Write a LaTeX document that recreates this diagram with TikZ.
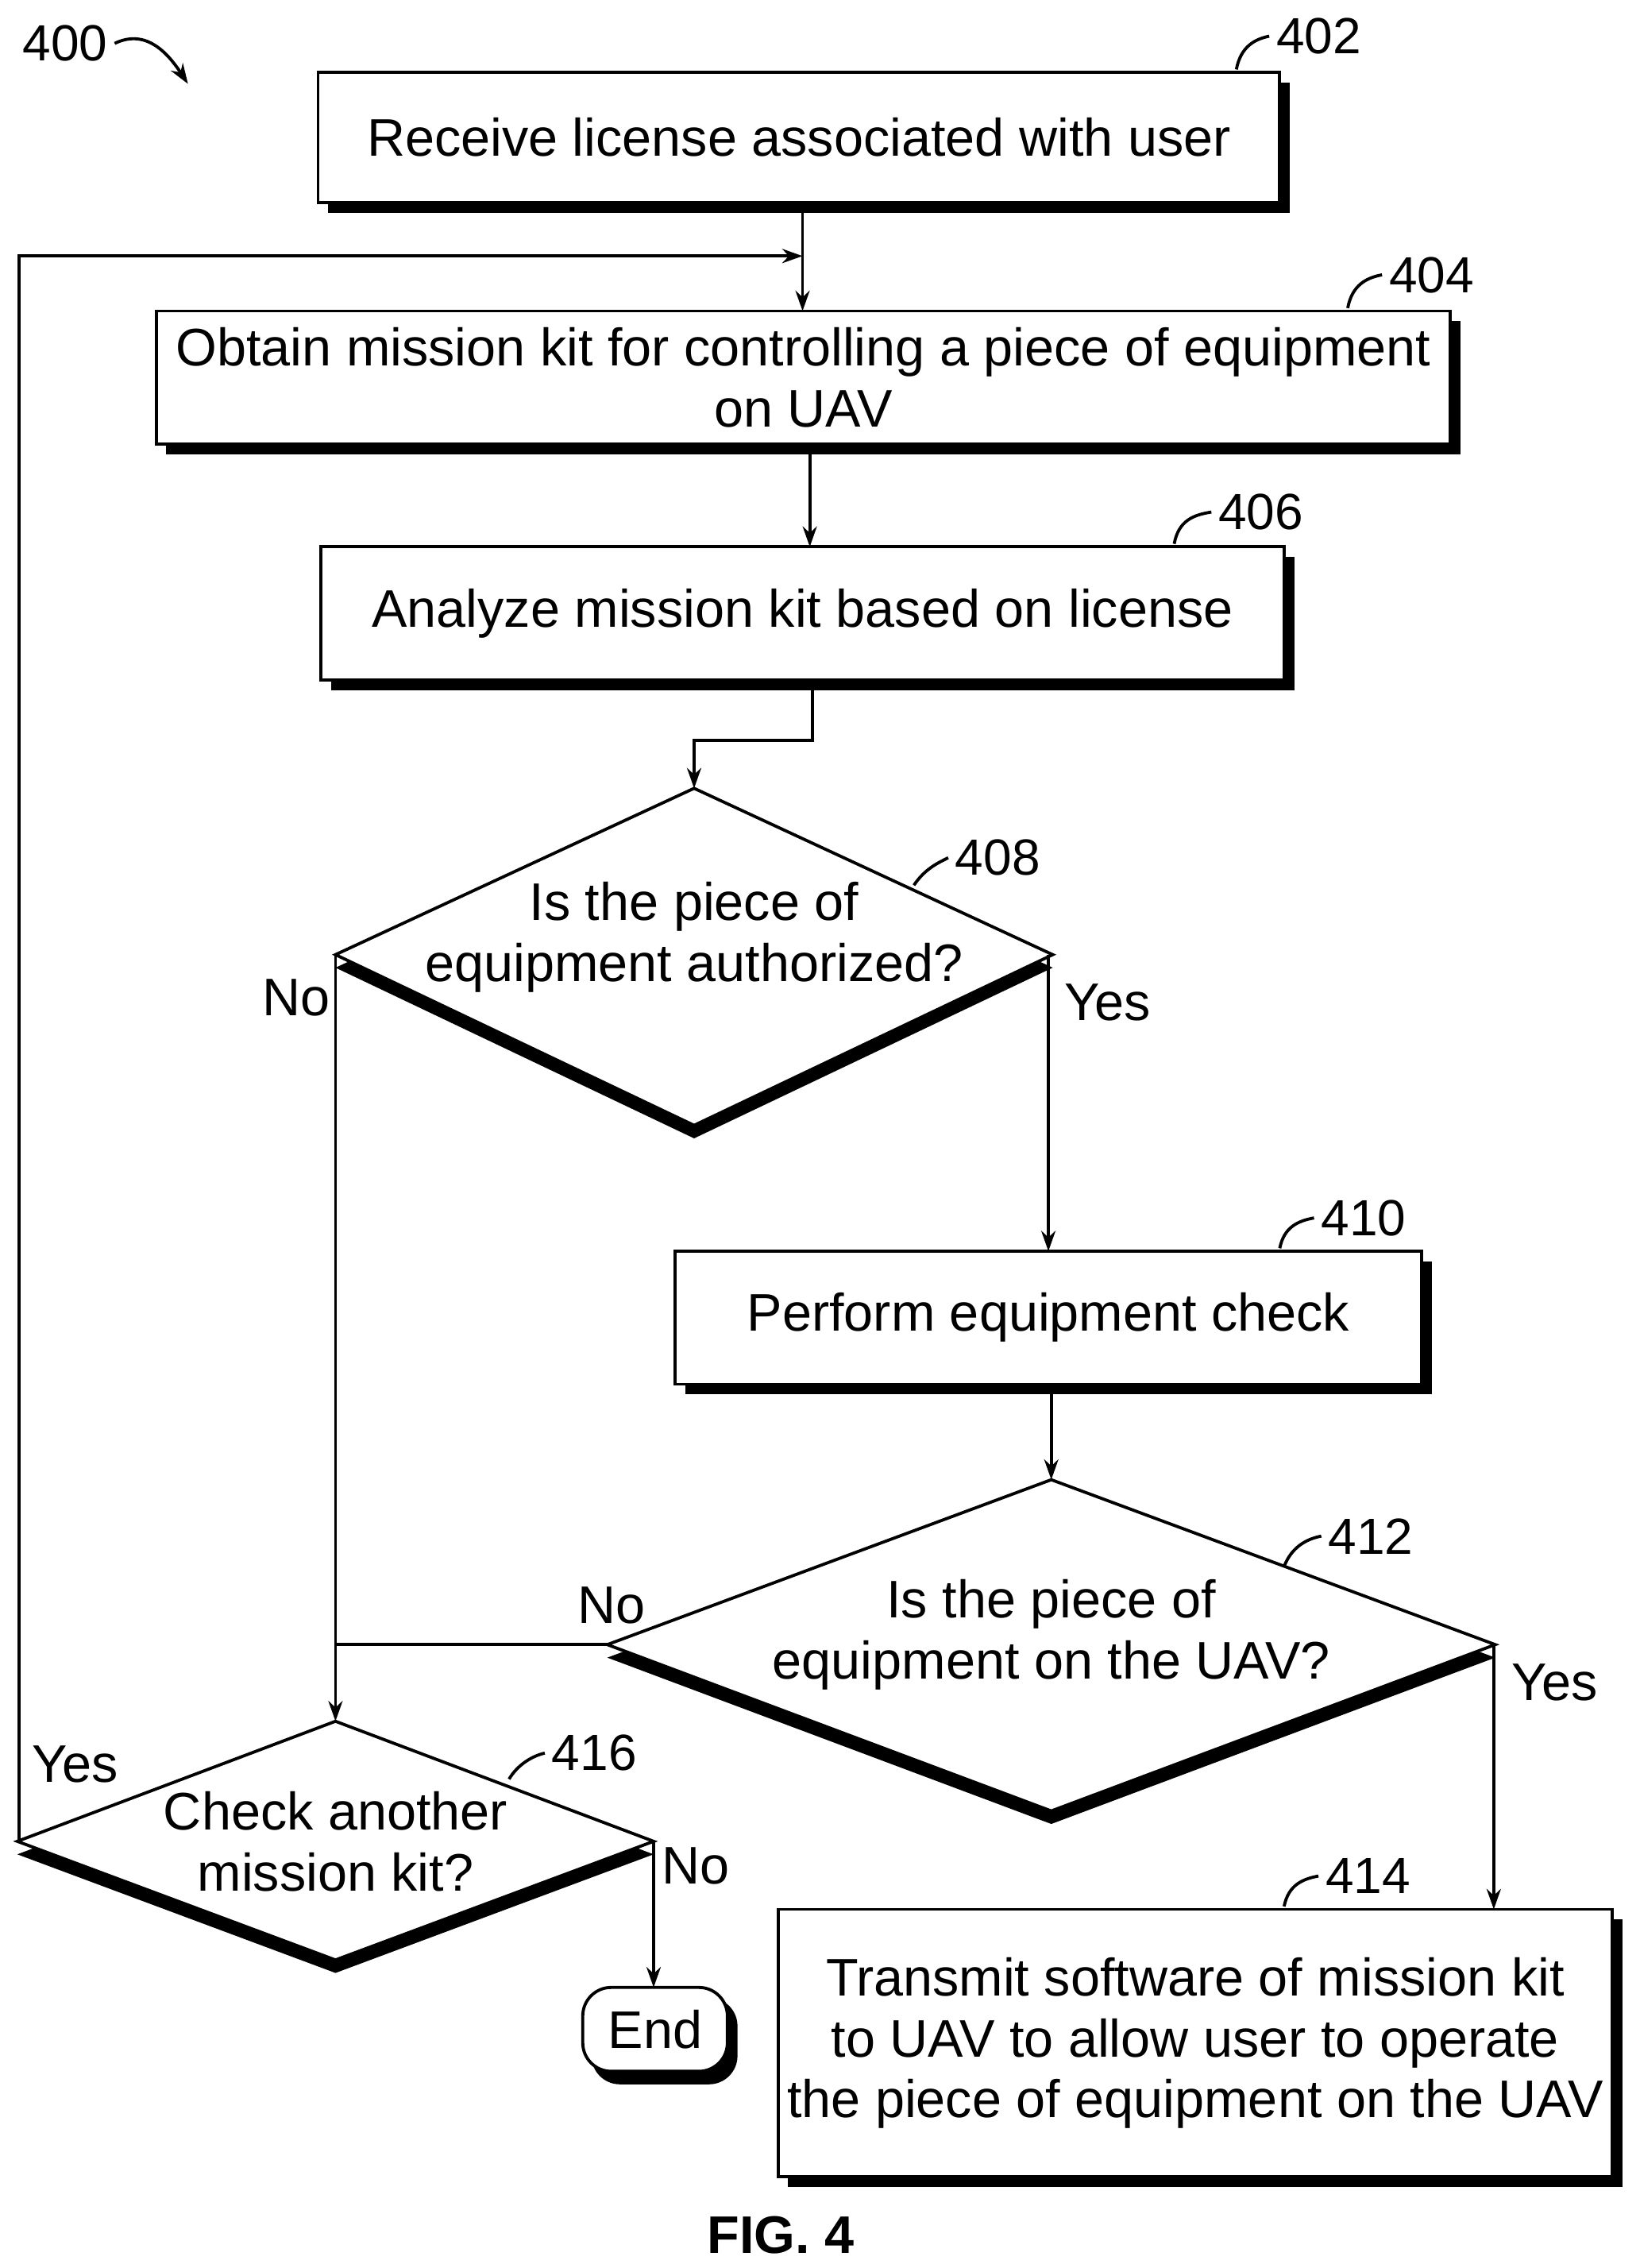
\documentclass[tikz,border=0pt]{standalone}
\usepackage{fontspec}
\setmainfont{Liberation Sans}
\usetikzlibrary{arrows.meta}
\begin{document}
\begin{tikzpicture}[x=0.025cm,y=-0.025cm,
  every node/.style={font=\fontsize{26}{30}\selectfont},
  ln/.style={line width=1.5pt},
  ar/.style={ln,-{Stealth[length=10pt,width=7pt]}},
  box/.style={draw,line width=1.5pt,fill=white},
  lbl/.style={font=\fontsize{25}{29}\selectfont}]
\useasboundingbox (0,0) rectangle (1134,1568);
\newcommand{\mybox}[5]{% name, x1,y1,x2,y2
  \fill[black] (#2+7,#3+7) rectangle (#4+7,#5+7);
  \draw[box] (#2,#3) rectangle (#4,#5);
  \coordinate (#1) at ({(#2+#4)/2},{(#3+#5)/2});}
\newcommand{\mydia}[6]{% name, top x,y, half width, upper height, lower height
  \fill[black] (#2,#3+9) -- (#2+#4,#3+#5+9) -- (#2,#3+#5+#6+9) -- (#2-#4,#3+#5+9) -- cycle;
  \draw[box] (#2,#3) -- (#2+#4,#3+#5) -- (#2,#3+#5+#6) -- (#2-#4,#3+#5) -- cycle;}
\mybox{b402}{220}{50}{885}{140}
\node (t402) at (b402) {Receive license associated with user};
\mybox{b404}{108}{215}{1003}{307}
\node[align=center] (t404) at (b404) {Obtain mission kit for controlling a piece of equipment\\on UAV};
\mybox{b406}{222}{378}{888}{470}
\node (t406) at (b406) {Analyze mission kit based on license};
\mydia{d408}{480}{545}{248}{115}{118}
\node[align=center] (t408) at (480,648) {Is the piece of\\equipment authorized?};
\mybox{b410}{467}{865}{983}{957}
\node (t410) at (b410) {Perform equipment check};
\mydia{d412}{727}{1023}{307}{114}{115}
\node[align=center] (t412) at (727,1130) {Is the piece of\\equipment on the UAV?};
\mydia{d416}{232}{1190}{220}{83}{82}
\node[align=center] (t416) at (232,1273) {Check another\\mission kit?};
\mybox{b414}{538}{1320}{1115}{1505}
\node[align=center] (t414) at (b414) {Transmit software of mission kit\\to UAV to allow user to operate\\the piece of equipment on the UAV};
\fill[black,rounded corners=14pt] (409,1381) rectangle (510,1441);
\draw[box,rounded corners=14pt] (403,1374) rectangle (503,1432);
\node (end) at (453,1403) {End};
\coordinate (p1) at (555,140); \coordinate (p2) at (555,215);
\coordinate (l1) at (13,1273); \coordinate (l2) at (13,177); \coordinate (l3) at (555,177);
\coordinate (q1) at (560,307); \coordinate (q2) at (560,378);
\coordinate (r1) at (562,470); \coordinate (r2) at (562,512); \coordinate (r3) at (480,512); \coordinate (r4) at (480,545);
\coordinate (s1) at (232,660); \coordinate (s2) at (232,1190);
\coordinate (u1) at (420,1137); \coordinate (u2) at (232,1137);
\coordinate (v1) at (725,660); \coordinate (v2) at (725,865);
\coordinate (w1) at (727,957); \coordinate (w2) at (727,1023);
\coordinate (x1) at (1033,1137); \coordinate (x2) at (1033,1320);
\coordinate (y1) at (452,1273); \coordinate (y2) at (452,1374);
\draw[ar] (p1) -- (p2);
\draw[ar] (l1) -- (l2) -- (l3);
\draw[ar] (q1) -- (q2);
\draw[ar] (r1) -- (r2) -- (r3) -- (r4);
\draw[ar] (s1) -- (s2);
\draw[ln] (u1) -- (u2);
\draw[ar] (v1) -- (v2);
\draw[ar] (w1) -- (w2);
\draw[ar] (x1) -- (x2);
\draw[ar] (y1) -- (y2);
\node (n1) at (205,690) {No};
\node (n2) at (766,693) {Yes};
\node (n3) at (423,1110) {No};
\node (n4) at (1075,1163) {Yes};
\node (n5) at (52,1220) {Yes};
\node (n6) at (481,1290) {No};
\node[lbl] (r402) at (912,25) {402};
\draw[ln] (855,48) .. controls (858,32) and (868,27) .. (r402.west);
\node[lbl] (r404) at (990,190) {404};
\draw[ln] (932,213) .. controls (935,197) and (945,192) .. (r404.west);
\node[lbl] (r406) at (872,354) {406};
\draw[ln] (812,376) .. controls (815,360) and (825,356) .. (r406.west);
\node[lbl] (r408) at (690,593) {408};
\draw[ln] (632,612) .. controls (640,600) and (650,596) .. (r408.west);
\node[lbl] (r410) at (943,842) {410};
\draw[ln] (885,863) .. controls (888,848) and (898,844) .. (r410.west);
\node[lbl] (r412) at (948,1062) {412};
\draw[ln] (888,1083) .. controls (893,1070) and (903,1064) .. (r412.west);
\node[lbl] (r416) at (411,1212) {416};
\draw[ln] (352,1230) .. controls (358,1220) and (368,1214) .. (r416.west);
\node[lbl] (r414) at (946,1297) {414};
\draw[ln] (888,1318) .. controls (891,1303) and (901,1299) .. (r414.west);
\node[lbl] (r400) at (45,30) {400};
\draw[ln,-{Stealth[length=10pt,width=7pt]}] (r400.east) .. controls (100,20) and (115,35) .. (130,58);
\node[font=\bfseries\fontsize{26}{30}\selectfont] (fig) at (540,1545) {FIG. 4};
\end{tikzpicture}
\end{document}
